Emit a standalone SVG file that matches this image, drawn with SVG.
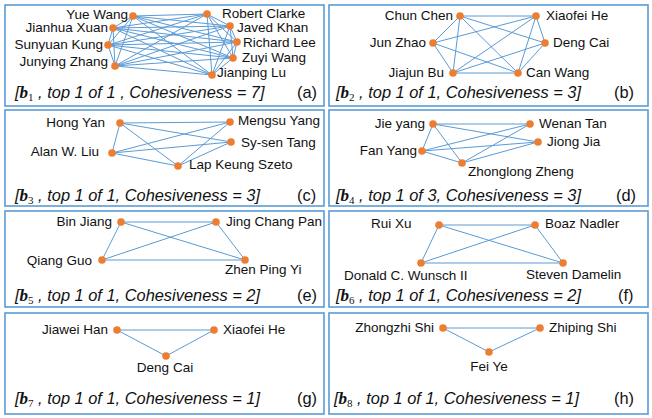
<svg xmlns="http://www.w3.org/2000/svg" width="652" height="418" viewBox="0 0 652 418">
<style>
.box{fill:none;stroke:#5b9bd5;stroke-width:1.6}
.edges line{stroke:#5b9bd5;stroke-width:1}
.n{fill:#ed7d31}
text{font-family:"Liberation Sans",Arial,sans-serif;fill:#111}
.lbl{font-size:13.5px}
.r{text-anchor:end}
.m{text-anchor:middle}
.cap{font-size:16.4px;font-style:italic}
.b{font-family:"Liberation Serif","Times New Roman",serif;font-weight:bold;font-size:17px}
.sub{font-family:"Liberation Serif","Times New Roman",serif;font-style:normal;font-size:11px}
.tag{font-size:16.4px}
</style>
<rect width="652" height="418" fill="#fff"/>

<!-- Panel a -->
<g id="panel-a">
<rect class="box" x="5" y="5" width="319" height="101"/>
<g id="a-connectors" class="edges">
<line x1="133" y1="16" x2="113" y2="28"/><line x1="133" y1="16" x2="108" y2="45"/><line x1="133" y1="16" x2="115" y2="66"/><line x1="133" y1="16" x2="207" y2="14"/><line x1="133" y1="16" x2="230" y2="26"/><line x1="133" y1="16" x2="237" y2="42"/><line x1="133" y1="16" x2="233" y2="58"/><line x1="133" y1="16" x2="212" y2="75"/>
<line x1="113" y1="28" x2="108" y2="45"/><line x1="113" y1="28" x2="115" y2="66"/><line x1="113" y1="28" x2="207" y2="14"/><line x1="113" y1="28" x2="230" y2="26"/><line x1="113" y1="28" x2="237" y2="42"/><line x1="113" y1="28" x2="233" y2="58"/><line x1="113" y1="28" x2="212" y2="75"/>
<line x1="108" y1="45" x2="115" y2="66"/><line x1="108" y1="45" x2="207" y2="14"/><line x1="108" y1="45" x2="230" y2="26"/><line x1="108" y1="45" x2="237" y2="42"/><line x1="108" y1="45" x2="233" y2="58"/><line x1="108" y1="45" x2="212" y2="75"/>
<line x1="115" y1="66" x2="207" y2="14"/><line x1="115" y1="66" x2="230" y2="26"/><line x1="115" y1="66" x2="237" y2="42"/><line x1="115" y1="66" x2="233" y2="58"/><line x1="115" y1="66" x2="212" y2="75"/>
<line x1="207" y1="14" x2="230" y2="26"/><line x1="207" y1="14" x2="237" y2="42"/><line x1="207" y1="14" x2="233" y2="58"/><line x1="207" y1="14" x2="212" y2="75"/>
<line x1="230" y1="26" x2="237" y2="42"/><line x1="230" y1="26" x2="233" y2="58"/><line x1="230" y1="26" x2="212" y2="75"/>
<line x1="237" y1="42" x2="233" y2="58"/><line x1="237" y1="42" x2="212" y2="75"/>
<line x1="233" y1="58" x2="212" y2="75"/>
</g>
<g id="a-yue-wang"><circle class="n" cx="133" cy="16" r="3.8"/><text class="lbl r" x="128" y="19">Yue Wang</text></g>
<g id="a-jianhua-xuan"><circle class="n" cx="113" cy="28" r="3.8"/><text class="lbl r" x="108" y="32">Jianhua Xuan</text></g>
<g id="a-sunyuan-kung"><circle class="n" cx="108" cy="45" r="3.8"/><text class="lbl r" x="103" y="49">Sunyuan Kung</text></g>
<g id="a-junying-zhang"><circle class="n" cx="115" cy="66" r="3.8"/><text class="lbl r" x="108" y="66">Junying Zhang</text></g>
<g id="a-robert-clarke"><circle class="n" cx="207" cy="14" r="3.8"/><text class="lbl" x="222" y="18">Robert Clarke</text></g>
<g id="a-javed-khan"><circle class="n" cx="230" cy="26" r="3.8"/><text class="lbl" x="237" y="32">Javed Khan</text></g>
<g id="a-richard-lee"><circle class="n" cx="237" cy="42" r="3.8"/><text class="lbl" x="243" y="47">Richard Lee</text></g>
<g id="a-zuyi-wang"><circle class="n" cx="233" cy="58" r="3.8"/><text class="lbl" x="242" y="62">Zuyi Wang</text></g>
<g id="a-jianping-lu"><circle class="n" cx="212" cy="75" r="3.8"/><text class="lbl" x="217" y="77">Jianping Lu</text></g>
<text class="cap" x="15" y="98">[<tspan class="b">b</tspan><tspan class="sub" dy="3">1</tspan><tspan dy="-3"> , top 1 of 1 , Cohesiveness = 7]</tspan></text>
<text class="tag" x="297" y="98">(a)</text>
</g>

<!-- Panel b -->
<g id="panel-b">
<rect class="box" x="329" y="5" width="319" height="101"/>
<g id="b-connectors" class="edges">
<line x1="460" y1="16" x2="536" y2="16"/><line x1="460" y1="16" x2="433" y2="43"/><line x1="460" y1="16" x2="545" y2="43"/><line x1="460" y1="16" x2="453" y2="73"/><line x1="460" y1="16" x2="518" y2="73"/>
<line x1="433" y1="43" x2="536" y2="16"/><line x1="433" y1="43" x2="453" y2="73"/><line x1="433" y1="43" x2="518" y2="73"/>
<line x1="536" y1="16" x2="545" y2="43"/><line x1="536" y1="16" x2="453" y2="73"/><line x1="536" y1="16" x2="518" y2="73"/>
<line x1="545" y1="43" x2="453" y2="73"/><line x1="545" y1="43" x2="518" y2="73"/>
<line x1="453" y1="73" x2="518" y2="73"/>
</g>
<g id="b-chun-chen"><circle class="n" cx="460" cy="16" r="3.8"/><text class="lbl r" x="453" y="20">Chun Chen</text></g>
<g id="b-xiaofei-he"><circle class="n" cx="536" cy="16" r="3.8"/><text class="lbl" x="546" y="20">Xiaofei He</text></g>
<g id="b-jun-zhao"><circle class="n" cx="433" cy="43" r="3.8"/><text class="lbl r" x="426" y="47">Jun Zhao</text></g>
<g id="b-deng-cai"><circle class="n" cx="545" cy="43" r="3.8"/><text class="lbl" x="553" y="47">Deng Cai</text></g>
<g id="b-jiajun-bu"><circle class="n" cx="453" cy="73" r="3.8"/><text class="lbl r" x="444" y="77">Jiajun Bu</text></g>
<g id="b-can-wang"><circle class="n" cx="518" cy="73" r="3.8"/><text class="lbl" x="526" y="77">Can Wang</text></g>
<text class="cap" x="336" y="98">[<tspan class="b">b</tspan><tspan class="sub" dy="3">2</tspan><tspan dy="-3"> , top 1 of 1, Cohesiveness = 3]</tspan></text>
<text class="tag" x="614" y="98">(b)</text>
</g>

<!-- Panel c -->
<g id="panel-c">
<rect class="box" x="5" y="110" width="319" height="96"/>
<g id="c-connectors" class="edges">
<line x1="120" y1="123" x2="230" y2="122"/><line x1="120" y1="123" x2="231" y2="142"/><line x1="120" y1="123" x2="112" y2="153"/><line x1="120" y1="123" x2="178" y2="166"/>
<line x1="112" y1="153" x2="230" y2="122"/><line x1="112" y1="153" x2="231" y2="142"/><line x1="112" y1="153" x2="178" y2="166"/>
<line x1="230" y1="122" x2="178" y2="166"/><line x1="231" y1="142" x2="178" y2="166"/>
</g>
<g id="c-hong-yan"><circle class="n" cx="120" cy="123" r="3.8"/><text class="lbl r" x="105" y="127">Hong Yan</text></g>
<g id="c-mengsu-yang"><circle class="n" cx="230" cy="122" r="3.8"/><text class="lbl" x="238" y="125">Mengsu Yang</text></g>
<g id="c-sy-sen-tang"><circle class="n" cx="231" cy="142" r="3.8"/><text class="lbl" x="241" y="147">Sy-sen Tang</text></g>
<g id="c-alan-w-liu"><circle class="n" cx="112" cy="153" r="3.8"/><text class="lbl r" x="99" y="156">Alan W. Liu</text></g>
<g id="c-lap-keung-szeto"><circle class="n" cx="178" cy="166" r="3.8"/><text class="lbl" x="189" y="169">Lap Keung Szeto</text></g>
<text class="cap" x="15" y="201">[<tspan class="b">b</tspan><tspan class="sub" dy="3">3</tspan><tspan dy="-3"> , top 1 of 1, Cohesiveness = 3]</tspan></text>
<text class="tag" x="297" y="201">(c)</text>
</g>

<!-- Panel d -->
<g id="panel-d">
<rect class="box" x="329" y="110" width="319" height="96"/>
<g id="d-connectors" class="edges">
<line x1="433" y1="124" x2="530" y2="124"/><line x1="433" y1="124" x2="538" y2="142"/><line x1="433" y1="124" x2="422" y2="151"/><line x1="433" y1="124" x2="462" y2="163"/>
<line x1="422" y1="151" x2="530" y2="124"/><line x1="422" y1="151" x2="538" y2="142"/><line x1="422" y1="151" x2="462" y2="163"/>
<line x1="462" y1="163" x2="530" y2="124"/><line x1="462" y1="163" x2="538" y2="142"/>
</g>
<g id="d-jie-yang"><circle class="n" cx="433" cy="124" r="3.8"/><text class="lbl r" x="425" y="128">Jie yang</text></g>
<g id="d-wenan-tan"><circle class="n" cx="530" cy="124" r="3.8"/><text class="lbl" x="539" y="128">Wenan Tan</text></g>
<g id="d-jiong-jia"><circle class="n" cx="538" cy="142" r="3.8"/><text class="lbl" x="547" y="146">Jiong Jia</text></g>
<g id="d-fan-yang"><circle class="n" cx="422" cy="151" r="3.8"/><text class="lbl r" x="417" y="155">Fan Yang</text></g>
<g id="d-zhonglong-zheng"><circle class="n" cx="462" cy="163" r="3.8"/><text class="lbl" x="468" y="176">Zhonglong Zheng</text></g>
<text class="cap" x="336" y="201">[<tspan class="b">b</tspan><tspan class="sub" dy="3">4</tspan><tspan dy="-3"> , top 1 of 3, Cohesiveness = 3]</tspan></text>
<text class="tag" x="616" y="201">(d)</text>
</g>

<!-- Panel e -->
<g id="panel-e">
<rect class="box" x="5" y="211" width="319" height="96"/>
<g id="e-connectors" class="edges">
<line x1="121" y1="222" x2="216" y2="222"/><line x1="121" y1="222" x2="102" y2="260"/><line x1="121" y1="222" x2="245" y2="260"/>
<line x1="216" y1="222" x2="102" y2="260"/><line x1="216" y1="222" x2="245" y2="260"/><line x1="102" y1="260" x2="245" y2="260"/>
</g>
<g id="e-bin-jiang"><circle class="n" cx="121" cy="222" r="3.8"/><text class="lbl r" x="112" y="226">Bin Jiang</text></g>
<g id="e-jing-chang-pan"><circle class="n" cx="216" cy="222" r="3.8"/><text class="lbl" x="226" y="226">Jing Chang Pan</text></g>
<g id="e-qiang-guo"><circle class="n" cx="102" cy="260" r="3.8"/><text class="lbl r" x="92" y="265">Qiang Guo</text></g>
<g id="e-zhen-ping-yi"><circle class="n" cx="245" cy="260" r="3.8"/><text class="lbl" x="225" y="274">Zhen Ping Yi</text></g>
<text class="cap" x="15" y="301">[<tspan class="b">b</tspan><tspan class="sub" dy="3">5</tspan><tspan dy="-3"> , top 1 of 1, Cohesiveness = 2]</tspan></text>
<text class="tag" x="297" y="301">(e)</text>
</g>

<!-- Panel f -->
<g id="panel-f">
<rect class="box" x="329" y="211" width="319" height="96"/>
<g id="f-connectors" class="edges">
<line x1="439" y1="225" x2="535" y2="225"/><line x1="439" y1="225" x2="421" y2="263"/><line x1="439" y1="225" x2="563" y2="263"/>
<line x1="535" y1="225" x2="421" y2="263"/><line x1="535" y1="225" x2="563" y2="263"/><line x1="421" y1="263" x2="563" y2="263"/>
</g>
<g id="f-rui-xu"><circle class="n" cx="439" cy="225" r="3.8"/><text class="lbl" x="371" y="228">Rui Xu</text></g>
<g id="f-boaz-nadler"><circle class="n" cx="535" cy="225" r="3.8"/><text class="lbl" x="545" y="228">Boaz Nadler</text></g>
<g id="f-donald-c-wunsch-ii"><circle class="n" cx="421" cy="263" r="3.8"/><text class="lbl" x="344" y="280">Donald C. Wunsch II</text></g>
<g id="f-steven-damelin"><circle class="n" cx="563" cy="263" r="3.8"/><text class="lbl" x="526" y="279">Steven Damelin</text></g>
<text class="cap" x="336" y="301">[<tspan class="b">b</tspan><tspan class="sub" dy="3">6</tspan><tspan dy="-3"> , top 1 of 1, Cohesiveness = 2]</tspan></text>
<text class="tag" x="618" y="301">(f)</text>
</g>

<!-- Panel g -->
<g id="panel-g">
<rect class="box" x="5" y="313" width="319" height="101"/>
<g id="g-connectors" class="edges">
<line x1="117" y1="330" x2="214" y2="330"/><line x1="117" y1="330" x2="166" y2="356"/><line x1="214" y1="330" x2="166" y2="356"/>
</g>
<g id="g-jiawei-han"><circle class="n" cx="117" cy="330" r="3.8"/><text class="lbl r" x="108" y="334">Jiawei Han</text></g>
<g id="g-xiaofei-he"><circle class="n" cx="214" cy="330" r="3.8"/><text class="lbl" x="223" y="334">Xiaofei He</text></g>
<g id="g-deng-cai"><circle class="n" cx="166" cy="356" r="3.8"/><text class="lbl m" x="165" y="372">Deng Cai</text></g>
<text class="cap" x="15" y="404">[<tspan class="b">b</tspan><tspan class="sub" dy="3">7</tspan><tspan dy="-3"> , top 1 of 1, Cohesiveness = 1]</tspan></text>
<text class="tag" x="297" y="404">(g)</text>
</g>

<!-- Panel h -->
<g id="panel-h">
<rect class="box" x="329" y="313" width="319" height="101"/>
<g id="h-connectors" class="edges">
<line x1="443" y1="328" x2="540" y2="328"/><line x1="443" y1="328" x2="489" y2="352"/><line x1="540" y1="328" x2="489" y2="352"/>
</g>
<g id="h-zhongzhi-shi"><circle class="n" cx="443" cy="328" r="3.8"/><text class="lbl r" x="434" y="332">Zhongzhi Shi</text></g>
<g id="h-zhiping-shi"><circle class="n" cx="540" cy="328" r="3.8"/><text class="lbl" x="549" y="332">Zhiping Shi</text></g>
<g id="h-fei-ye"><circle class="n" cx="489" cy="352" r="3.8"/><text class="lbl m" x="489" y="371">Fei Ye</text></g>
<text class="cap" x="334" y="404">[<tspan class="b">b</tspan><tspan class="sub" dy="3">8</tspan><tspan dy="-3"> , top 1 of 1, Cohesiveness = 1]</tspan></text>
<text class="tag" x="614" y="404">(h)</text>
</g>
</svg>
